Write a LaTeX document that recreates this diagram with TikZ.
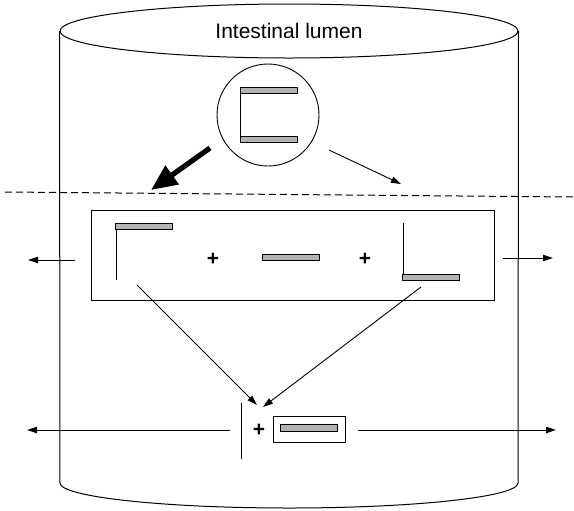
\documentclass[tikz,border=0pt]{standalone}
\usepackage{fontspec}
\setmainfont{Liberation Sans}
\usetikzlibrary{arrows.meta,shapes.geometric}
\tikzset{
  wall/.style={line width=0.5pt},
  bar/.style={draw, line width=0.45pt, fill=gray!60, minimum width=28.5pt, minimum height=3pt, inner sep=0pt},
  stem/.style={line width=0.5pt},
  arrow/.style={-{Triangle[length=5pt,width=3.2pt]}, line width=0.45pt},
  bigarrow/.style={-{Triangle[length=13pt,width=11pt]}, line width=2.6pt},
  plus/.style={inner sep=1pt, font=\fontsize{10.5}{12}\selectfont\bfseries}
}

\begin{document}
\begin{tikzpicture}[x=0.5pt,y=-0.5pt,font=\fontsize{10.5}{12}\selectfont]
  \useasboundingbox (0,0) rectangle (574,510);
  % intestine wall
  \node[wall, draw, ellipse, minimum width=229pt, minimum height=27pt, inner sep=0pt] (lumen) at (289,31) {Intestinal lumen};
  \draw[wall] (lumen.west) -- (60,483) arc[start angle=180, end angle=0, x radius=229, y radius=25] -- (lumen.east);
  % membrane
  \draw[line width=0.5pt, dash pattern=on 3.5pt off 2pt] (5,192) -- (574,197);
  % micelle
  \node[draw, circle, line width=0.45pt, minimum size=51pt, inner sep=0pt] (micelle) at (268,115) {};
  \draw[stem] (240,87) -- (240,142);
  \node[bar] (mtop) at (268.5,90) {};
  \node[bar] (mbot) at (268.5,139.5) {};
  \coordinate (bigstart) at (210,148);
  \coordinate (bigend) at (151,190);
  \coordinate (thinstart) at (329,150);
  \coordinate (thinend) at (401,184);
  \draw[bigarrow] (bigstart) -- (bigend);
  \draw[arrow] (thinstart) -- (thinend);
  % digestion products
  \node[draw, line width=0.45pt, minimum width=201.5pt, minimum height=45pt] (products) at (292.5,255) {};
  \draw[stem] (116,223) -- (116,280);
  \node[bar] (ltop) at (144,226) {};
  \node[plus] (plusa) at (213,259) {+};
  \node[bar] (mid) at (290.5,257) {};
  \node[plus] (plusb) at (365,259) {+};
  \draw[stem] (403,223) -- (403,280);
  \node[bar] (rbot) at (431,277) {};
  \coordinate (lout0) at (75,260);
  \coordinate (lout1) at (28,260);
  \coordinate (rout0) at (503,258);
  \coordinate (rout1) at (553,258);
  \draw[arrow] (lout0) -- (lout1);
  \draw[arrow] (rout0) -- (rout1);
  % recombination
  \coordinate (ldown) at (137,285);
  \coordinate (rdown) at (421,287);
  \coordinate (meetl) at (257,405);
  \coordinate (meetr) at (263,407);
  \draw[arrow] (ldown) -- (meetl);
  \draw[arrow] (rdown) -- (meetr);
  \draw[stem] (241,403) -- (241,459);
  \node[plus] (plusc) at (259,430) {+};
  \node[draw, line width=0.45pt, minimum width=36pt, minimum height=13pt, inner sep=0pt] (packed) at (309,429) {};
  \node[bar, minimum height=3.5pt] (pbar) at (308.5,427.5) {};
  \coordinate (bout0) at (230,430);
  \coordinate (bout1) at (27,430);
  \coordinate (bout2) at (358,430);
  \coordinate (bout3) at (556,430);
  \draw[arrow] (bout0) -- (bout1);
  \draw[arrow] (bout2) -- (bout3);
\end{tikzpicture}
\end{document}
